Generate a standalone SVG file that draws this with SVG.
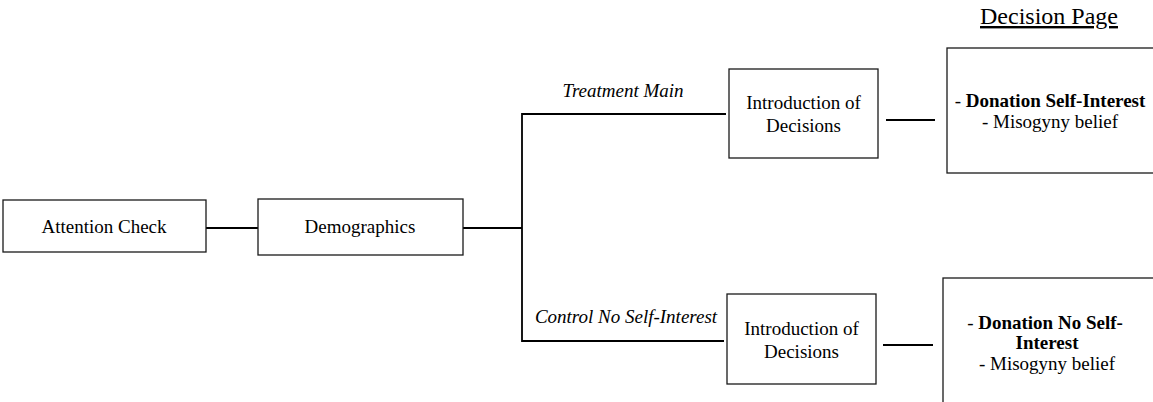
<svg xmlns="http://www.w3.org/2000/svg" width="1153" height="402" viewBox="0 0 1153 402">
<style>
.box{fill:#fff;stroke:#1a1a1a;stroke-width:1.3}
.ln{stroke:#000;stroke-width:1.8;fill:none}
text{font-family:"Liberation Serif","Times New Roman",serif;font-size:19px;fill:#000;text-anchor:middle}
.it{font-style:italic}
.b{font-weight:bold}
</style>
<rect width="1153" height="402" fill="#fff"/>
<g id="connectors">
<line class="ln" x1="206" y1="228" x2="258" y2="228"/>
<line class="ln" x1="463" y1="228" x2="522" y2="228"/>
<polyline class="ln" points="726,114 522,114 522,341 724,341"/>
<line class="ln" x1="886" y1="120" x2="935" y2="120"/>
<line class="ln" x1="883" y1="345" x2="933" y2="345"/>
<text class="it" x="623" y="97">Treatment Main</text>
<text class="it" x="626" y="323">Control No Self-Interest</text>
</g>
<g id="title">
<text x="1049" y="24" style="font-size:24px;text-decoration:underline">Decision Page</text>
</g>
<g id="attention">
<rect class="box" x="3" y="200" width="203" height="52"/>
<text x="104" y="233">Attention Check</text>
</g>
<g id="demographics">
<rect class="box" x="258" y="199" width="205" height="56"/>
<text x="360" y="233">Demographics</text>
</g>
<g id="intro-top">
<rect class="box" x="729" y="69" width="149" height="89"/>
<text x="803.5" y="109">Introduction of</text>
<text x="803.5" y="132">Decisions</text>
</g>
<g id="intro-bottom">
<rect class="box" x="727" y="294" width="149" height="90"/>
<text x="801.5" y="335">Introduction of</text>
<text x="801.5" y="358">Decisions</text>
</g>
<g id="decision-top">
<rect class="box" x="947" y="48" width="220" height="125"/>
<text x="1050" y="107">- <tspan class="b">Donation Self-Interest</tspan></text>
<text x="1050" y="128">- Misogyny belief</text>
</g>
<g id="decision-bottom">
<rect class="box" x="943" y="278" width="220" height="140"/>
<text x="1045" y="329">- <tspan class="b">Donation No Self-</tspan></text>
<text class="b" x="1047" y="349">Interest</text>
<text x="1047" y="370">- Misogyny belief</text>
</g>
</svg>
